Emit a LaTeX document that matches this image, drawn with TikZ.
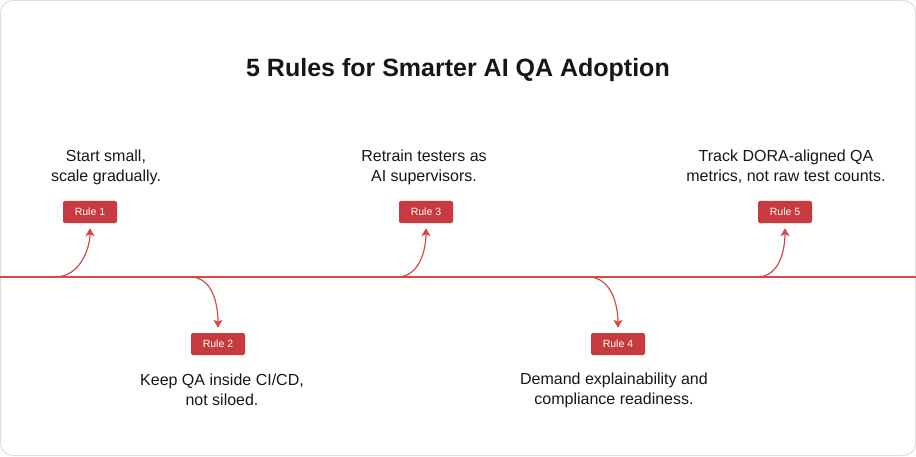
\documentclass[tikz,border=0pt]{standalone}
\usepackage{fontspec}
\setmainfont{Liberation Sans}
\usetikzlibrary{arrows.meta,positioning}
\usepackage{xcolor}
\definecolor{rulered}{HTML}{C73A3F}
\definecolor{linered}{HTML}{D24A4A}
\definecolor{ink}{HTML}{161616}
\definecolor{framegray}{HTML}{DEDEDE}

\tikzset{
  rulebox/.style={fill=rulered, text=white, rounded corners=2pt,
    minimum width=54pt, minimum height=22pt, inner sep=0pt,
    font=\fontsize{10.5}{12}\selectfont},
  caption/.style={text=ink, align=center, font=\fontsize{16}{20}\selectfont},
  link/.style={draw=linered, line width=1.2pt,
    -{Stealth[length=8pt,width=9pt,inset=2pt]}, shorten >=5pt}
}

\begin{document}
\begin{tikzpicture}[x=1pt,y=1pt]
  \useasboundingbox (0,0) rectangle (916,456);
  % outer frame
  \draw[framegray, rounded corners=12pt, line width=1pt] (0.5,0.5) rectangle (915.5,455.5);
  % title
  \node[font=\fontsize{25}{30}\selectfont\bfseries, text=ink] (title) at (458,386)
        {5 Rules for Smarter AI QA Adoption};
  % timeline
  \coordinate (tl) at (0,179);
  \coordinate (tr) at (916,179);
  \draw[linered, line width=1.2pt] (tl) -- (tr);
  % rule boxes -- above and below the line
  \node[rulebox] (r1) at (90,244)  {Rule 1};
  \node[rulebox] (r2) at (218,112) {Rule 2};
  \node[rulebox] (r3) at (426,244) {Rule 3};
  \node[rulebox] (r4) at (618,112) {Rule 4};
  \node[rulebox] (r5) at (785,244) {Rule 5};
  % captions
  \node[caption] (c1) at (106,289) {Start small,\\scale gradually.};
  \node[caption] (c2) at (222,66)  {Keep QA inside CI/CD,\\not siloed.};
  \node[caption] (c3) at (424,289) {Retrain testers as\\AI supervisors.};
  \node[caption] (c4) at (614,66)  {Demand explainability and\\compliance readiness.};
  \node[caption] (c5) at (786,289) {Track DORA-aligned QA\\metrics, not raw test counts.};
  % branch points on the line
  \coordinate (s1) at (55,179);
  \coordinate (s2) at (190,179);
  \coordinate (s3) at (397,179);
  \coordinate (s4) at (588,179);
  \coordinate (s5) at (757,179);
  % curved arrows
  \draw[link] (s1) to[out=0,in=-90] (r1.south);
  \draw[link] (s2) to[out=0,in=90]  (r2.north);
  \draw[link] (s3) to[out=0,in=-90] (r3.south);
  \draw[link] (s4) to[out=0,in=90]  (r4.north);
  \draw[link] (s5) to[out=0,in=-90] (r5.south);
\end{tikzpicture}
\end{document}
